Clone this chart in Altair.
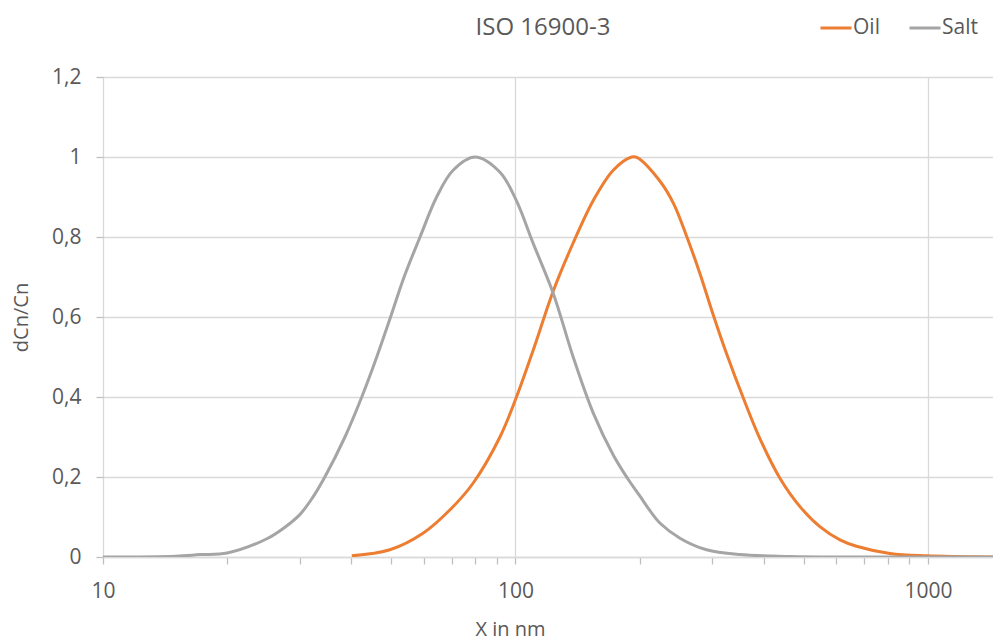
import altair as alt
import pandas as pd

# Salt series (x in nm, dCn/Cn)
salt_x = [10, 15, 17.2, 20, 24.9, 27.4, 30, 32.2, 34.5, 38.6, 42.4, 46.1, 49.8, 53.7, 58.7,
          64.4, 70.6, 79.8, 91.7, 100.4, 110.4, 123.5, 138, 154.5, 172.6, 186, 200.4,
          212.5, 223.9, 250.5, 290.5, 350, 462, 600, 1000, 1500]
salt_y = [0, 0.002, 0.006, 0.01, 0.045, 0.072, 0.106, 0.148, 0.2, 0.3, 0.4, 0.5, 0.6, 0.7,
          0.8, 0.9, 0.967, 1.0, 0.962, 0.892, 0.784, 0.659, 0.50, 0.359, 0.255, 0.2, 0.152,
          0.114, 0.085, 0.047, 0.018, 0.006, 0.0015, 0, 0, 0]

# Oil series
oil_x = [40.1, 49.6, 59.8, 69.4, 79.0, 91.7, 100.4, 110.4, 123.5, 138, 154.5, 172.6,
         191.3, 196.9, 223.9, 241.9, 260.4, 280, 301.7, 325, 356.6, 391.4, 437.7, 489.5,
         547, 612, 671, 809, 993, 1500]
oil_y = [0.003, 0.018, 0.06, 0.118, 0.185, 0.30, 0.398, 0.517, 0.665, 0.785, 0.892, 0.967,
         1.0, 0.999, 0.94, 0.883, 0.80, 0.709, 0.605, 0.508, 0.398, 0.296, 0.197, 0.126,
         0.076, 0.043, 0.027, 0.009, 0.003, 0]

series_names = ["Oil", "Salt"]
series_colors = ["#ED7D31", "#A5A5A5"]

x_ticks = [10, 20, 30, 40, 50, 60, 70, 80, 90, 100, 200, 300, 400, 500, 600, 700, 800,
           900, 1000]
x_major = [10, 100, 1000]
y_ticks = [0, 0.2, 0.4, 0.6, 0.8, 1.0, 1.2]

rows = []
for i, (x, y) in enumerate(zip(oil_x, oil_y)):
    rows.append({"series": "Oil", "x": x, "y": y, "i": i})
for i, (x, y) in enumerate(zip(salt_x, salt_y)):
    rows.append({"series": "Salt", "x": x, "y": y, "i": i})
df = pd.DataFrame(rows)

FONT = "Open Sans"
TXT = "#595959"
major_test = " || ".join(f"datum.value == {v}" for v in x_major)

chart = alt.Chart(df).mark_line(strokeWidth=3, interpolate="catmull-rom", clip=True).encode(
    x=alt.X("x:Q",
            scale=alt.Scale(type="log", domain=[10, 1438], nice=False),
            axis=alt.Axis(values=x_ticks, title="X in nm",
                          labelExpr=f"({major_test}) ? format(datum.value, 'd') : ''",
                          labelFlush=False, labelOverlap=False,
                          gridOpacity={"condition": {"test": major_test, "value": 1}, "value": 0},
                          gridColor="#d9d9d9", gridWidth=1.3,
                          domainColor="#d9d9d9", domainWidth=1.3,
                          tickColor="#bfbfbf", tickSize=7, tickWidth=1.3,
                          labelFont=FONT, labelFontSize=21, labelColor=TXT, labelPadding=16,
                          titleFont=FONT, titleFontSize=20, titleColor=TXT,
                          titleFontWeight="normal", titleX=407, titleY=72,
                          titleBaseline="middle", titleAlign="center")),
    y=alt.Y("y:Q",
            scale=alt.Scale(domain=[0, 1.2], nice=False),
            axis=alt.Axis(values=y_ticks, title="dCn/Cn",
                          labelExpr="replace(format(datum.value, '.1~f'), '.', ',')",
                          gridColor="#d9d9d9", gridWidth=1.3, domain=False,
                          tickColor="#bfbfbf", tickSize=7, tickWidth=1.3,
                          labelFont=FONT, labelFontSize=21, labelColor=TXT, labelPadding=15,
                          titleFont=FONT, titleFontSize=20, titleColor=TXT,
                          titleFontWeight="normal", titleX=-82, titleY=240,
                          titleBaseline="middle", titleAlign="center")),
    color=alt.Color("series:N",
                    scale=alt.Scale(domain=series_names, range=series_colors),
                    legend=alt.Legend(title=None, orient="none", legendX=716, legendY=-66,
                                      direction="horizontal", symbolType="stroke",
                                      symbolSize=961, symbolStrokeWidth=3,
                                      labelFont=FONT, labelFontSize=21, labelColor=TXT,
                                      labelOffset=0, columnPadding=23)),
    order=alt.Order("i:Q"),
).properties(
    width=890,
    height=480,
    title=alt.TitleParams("ISO 16900-3", font=FONT, fontSize=24, fontWeight="normal",
                          color=TXT, anchor="middle", dx=-5, baseline="middle",
                          offset=-41),
    autosize=alt.AutoSizeParams(type="none"),
    padding={"left": 95, "top": 69, "right": 0, "bottom": 86},
).configure_view(stroke=None).configure(background="white")

chart.save("out.html", embed_options={"renderer": "svg", "actions": False})
